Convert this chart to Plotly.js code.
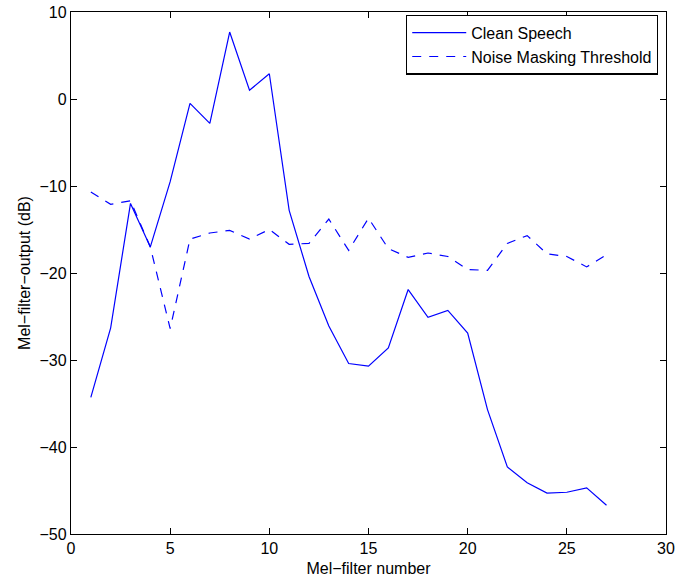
<!DOCTYPE html>
<html>
<head>
<meta charset="utf-8">
<script src="https://cdn.plot.ly/plotly-3.0.1.min.js"></script>
<style>
  html, body { margin: 0; padding: 0; background: #fff; }
  #chart { width: 678px; height: 583px; }
</style>
</head>
<body>
<div id="chart"></div>
<script>
// Mel filter index (1..27)
const filterIndex = [1, 2, 3, 4, 5, 6, 7, 8, 9, 10, 11, 12, 13, 14, 15, 16, 17, 18, 19, 20, 21, 22, 23, 24, 25, 26, 27];

// Mel filter-bank outputs in dB
const cleanSpeech = [-34.3, -26.3, -12.0, -17.0, -9.5, -0.5, -2.8, 7.7, 1.0, 2.9,
  -12.8, -20.4, -26.1, -30.4, -30.7, -28.6, -21.9, -25.1, -24.3, -26.9,
  -35.7, -42.3, -44.1, -45.3, -45.2, -44.7, -46.7];

const noiseMaskingThreshold = [-10.7, -12.1, -11.7, -17.0, -26.4, -16.1, -15.4, -15.1, -16.1, -15.0,
  -16.7, -16.6, -13.8, -17.4, -13.7, -17.2, -18.2, -17.7, -18.1, -19.6,
  -19.7, -16.6, -15.7, -17.8, -18.1, -19.3, -17.9];

const xTicks = [0, 5, 10, 15, 20, 25, 30];
const yTicks = [-50, -40, -30, -20, -10, 0, 10];

const font = { family: 'Liberation Sans, Arial, Helvetica, sans-serif', size: 16, color: '#000' };

const traces = [
  {
    x: filterIndex, y: cleanSpeech, name: 'Clean Speech',
    type: 'scatter', mode: 'lines',
    line: { color: '#0000ff', width: 1.2 }
  },
  {
    x: filterIndex, y: noiseMaskingThreshold, name: 'Noise Masking Threshold',
    type: 'scatter', mode: 'lines',
    line: { color: '#0000ff', width: 1.2, dash: '9px,8px' }
  }
];

const axisCommon = {
  showline: true, linecolor: '#000', linewidth: 1.2, mirror: 'ticks',
  ticks: 'inside', ticklen: 6, tickcolor: '#000', tickwidth: 1,
  showgrid: false, zeroline: false, tickfont: font
};

const layout = {
  width: 678, height: 583,
  margin: { l: 71, r: 12, t: 12, b: 49 },
  paper_bgcolor: '#fff', plot_bgcolor: '#fff',
  font: font,
  showlegend: true,
  legend: {
    x: 0.9866, y: 0.995, xanchor: 'right', yanchor: 'top',
    bordercolor: '#000', borderwidth: 1.2, bgcolor: '#fff',
    font: font, tracegroupgap: 0, itemwidth: 54
  },
  xaxis: Object.assign({}, axisCommon, {
    range: [0, 30], tickvals: xTicks,
    title: { text: 'Mel\u2212filter number', font: font, standoff: 6 }
  }),
  yaxis: Object.assign({}, axisCommon, {
    range: [-50, 10], tickvals: yTicks,
    title: { text: 'Mel\u2212filter\u2212output (dB)', font: font, standoff: 4 }
  })
};

Plotly.newPlot('chart', traces, layout, { displayModeBar: false, staticPlot: true });
</script>
</body>
</html>
